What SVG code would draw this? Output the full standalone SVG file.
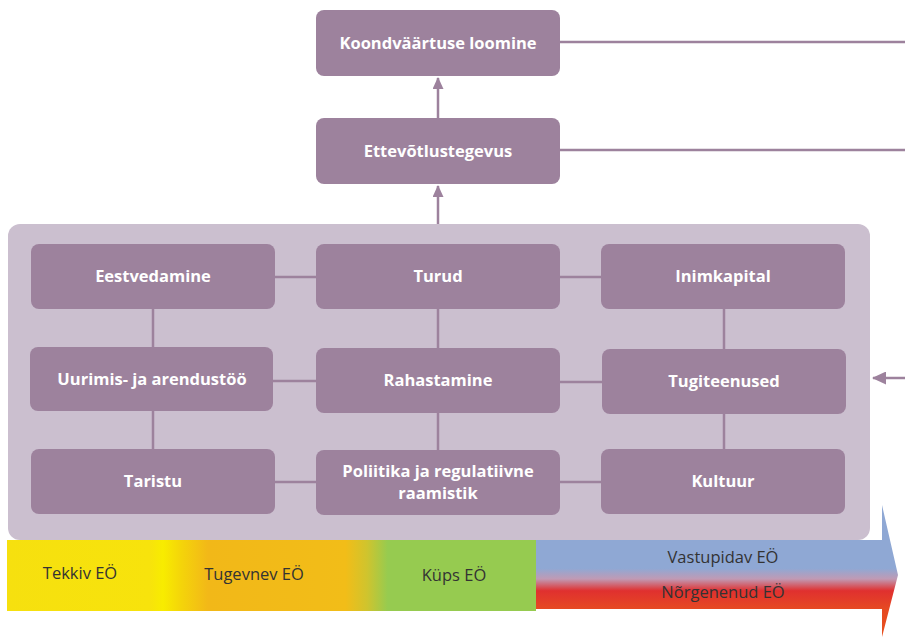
<svg xmlns="http://www.w3.org/2000/svg" width="905" height="637" viewBox="0 0 905 637">
<style>
.n{fill:#9d829d}
.t{font-family:"Open Sans","Noto Sans",sans-serif;font-weight:bold;font-size:16.5px;fill:#ffffff;text-anchor:middle}
.b{font-family:"Open Sans","Noto Sans",sans-serif;font-size:16.5px;fill:#333333;text-anchor:middle}
.c{stroke:#9d829d;stroke-width:2.5;fill:none}
</style>
<defs>
<marker id="ah" markerWidth="12" markerHeight="11" refX="11" refY="5.5" orient="auto" markerUnits="userSpaceOnUse" viewBox="0 0 12 11">
<path d="M0,0 L12,5.5 L0,11 Z" fill="#9d829d"/>
</marker>
<marker id="ah2" markerWidth="14" markerHeight="13" refX="13" refY="6.5" orient="auto" markerUnits="userSpaceOnUse" viewBox="0 0 14 13">
<path d="M0,0 L14,6.5 L0,13 Z" fill="#9d829d"/>
</marker>
<linearGradient id="g1" gradientUnits="userSpaceOnUse" x1="7" y1="0" x2="536" y2="0">
<stop offset="0" stop-color="#f6e00f"/>
<stop offset="0.27" stop-color="#f7e30c"/>
<stop offset="0.295" stop-color="#f8ec00"/>
<stop offset="0.33" stop-color="#f4d40a"/>
<stop offset="0.38" stop-color="#f2b818"/>
<stop offset="0.64" stop-color="#f2bd18"/>
<stop offset="0.68" stop-color="#d0c42d"/>
<stop offset="0.72" stop-color="#96cb50"/>
<stop offset="1" stop-color="#96cb50"/>
</linearGradient>
<linearGradient id="g2" gradientUnits="userSpaceOnUse" x1="0" y1="505" x2="0" y2="637">
<stop offset="0" stop-color="#8fa8d4"/>
<stop offset="0.48" stop-color="#8fa8d4"/>
<stop offset="0.56" stop-color="#c09ab4"/>
<stop offset="0.65" stop-color="#e0302f"/>
<stop offset="0.79" stop-color="#e64a22"/>
<stop offset="1" stop-color="#e8501e"/>
</linearGradient>
</defs>

<rect id="container" x="8" y="224" width="862" height="316" rx="12" fill="#cbbfcf"/>

<g id="connectors">
<line class="c" x1="438" y1="118" x2="438" y2="78" marker-end="url(#ah)"/>
<line class="c" x1="438" y1="224" x2="438" y2="186" marker-end="url(#ah)"/>
<line class="c" x1="560" y1="42" x2="905" y2="42"/>
<line class="c" x1="560" y1="150" x2="905" y2="150"/>
<line class="c" x1="905" y1="378" x2="873" y2="378" marker-end="url(#ah2)"/>
<line class="c" x1="275" y1="277" x2="316" y2="277"/>
<line class="c" x1="560" y1="277" x2="601" y2="277"/>
<line class="c" x1="273" y1="381" x2="316" y2="381"/>
<line class="c" x1="560" y1="382" x2="602" y2="382"/>
<line class="c" x1="275" y1="482" x2="316" y2="482"/>
<line class="c" x1="560" y1="482" x2="601" y2="482"/>
<line class="c" x1="153" y1="309" x2="153" y2="347"/>
<line class="c" x1="153" y1="411" x2="153" y2="449"/>
<line class="c" x1="438" y1="309" x2="438" y2="348"/>
<line class="c" x1="438" y1="413" x2="438" y2="450"/>
<line class="c" x1="724" y1="309" x2="724" y2="349"/>
<line class="c" x1="724" y1="414" x2="724" y2="449"/>
</g>

<g id="koond"><rect class="n" x="316" y="10" width="244" height="66" rx="8"/><text class="t" x="438" y="49">Koondväärtuse loomine</text></g>
<g id="ettevotlus"><rect class="n" x="316" y="118" width="244" height="66" rx="8"/><text class="t" x="438" y="157">Ettevõtlustegevus</text></g>

<g id="eestvedamine"><rect class="n" x="31" y="244" width="244" height="65" rx="8"/><text class="t" x="153" y="282">Eestvedamine</text></g>
<g id="turud"><rect class="n" x="316" y="244" width="244" height="65" rx="8"/><text class="t" x="438" y="282">Turud</text></g>
<g id="inimkapital"><rect class="n" x="601" y="244" width="244" height="65" rx="8"/><text class="t" x="723" y="282">Inimkapital</text></g>

<g id="uurimis"><rect class="n" x="30" y="347" width="243" height="64" rx="8"/><text class="t" x="152" y="385">Uurimis- ja arendustöö</text></g>
<g id="rahastamine"><rect class="n" x="316" y="348" width="244" height="65" rx="8"/><text class="t" x="438" y="386">Rahastamine</text></g>
<g id="tugiteenused"><rect class="n" x="602" y="349" width="244" height="65" rx="8"/><text class="t" x="724" y="387">Tugiteenused</text></g>

<g id="taristu"><rect class="n" x="31" y="449" width="244" height="65" rx="8"/><text class="t" x="153" y="487">Taristu</text></g>
<g id="poliitika"><rect class="n" x="316" y="450" width="244" height="65" rx="8"/><text class="t" x="438" y="477">Poliitika ja regulatiivne</text><text class="t" x="438" y="499">raamistik</text></g>
<g id="kultuur"><rect class="n" x="601" y="449" width="244" height="65" rx="8"/><text class="t" x="723" y="487">Kultuur</text></g>

<g id="stages">
<rect x="7" y="540" width="529" height="71" fill="url(#g1)"/>
<path d="M536,540 L882,540 L882,505 L898,575 L882,637 L882,609 L536,609 Z" fill="url(#g2)"/>
<text class="b" x="80" y="579">Tekkiv EÖ</text>
<text class="b" x="254" y="580">Tugevnev EÖ</text>
<text class="b" x="454" y="581">Küps EÖ</text>
<text class="b" x="723" y="563">Vastupidav EÖ</text>
<text class="b" x="723" y="598">Nõrgenenud EÖ</text>
</g>
</svg>
